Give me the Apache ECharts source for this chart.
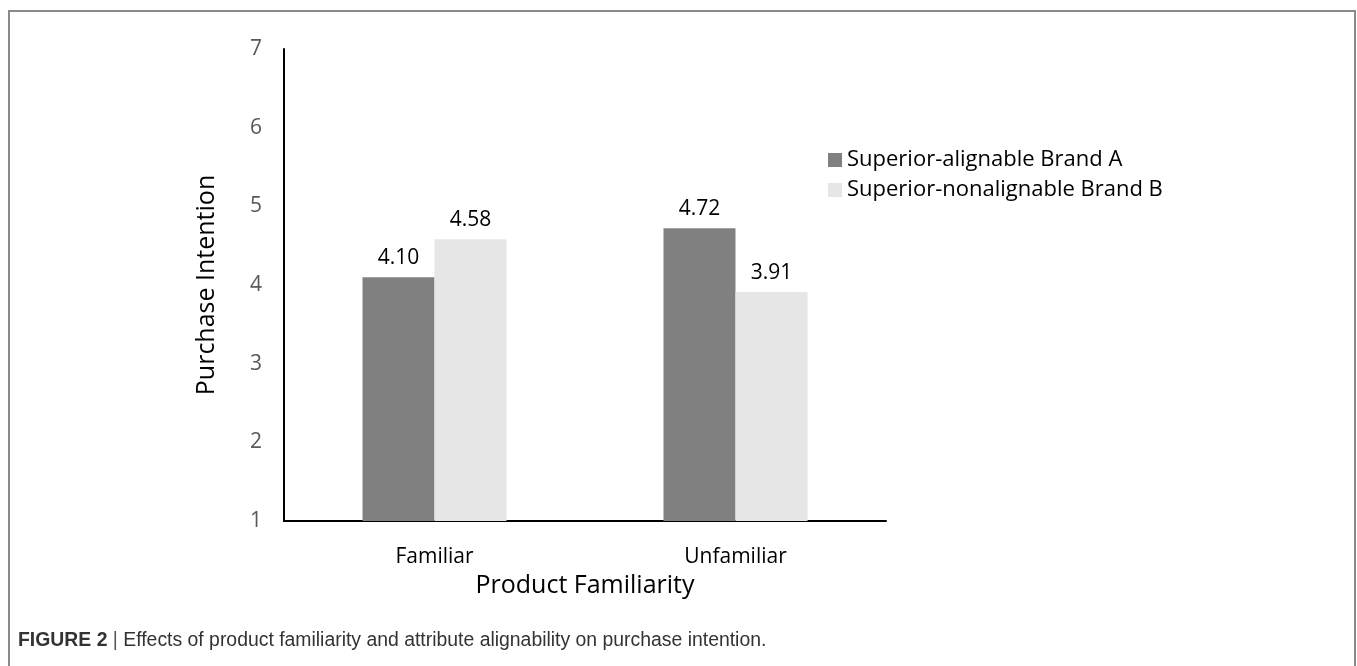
<!DOCTYPE html>
<html>
<head>
<meta charset="utf-8">
<script src="https://cdn.jsdelivr.net/npm/echarts@6/dist/echarts.min.js"></script>
<style>html,body{margin:0;padding:0;background:#fff;}#c{width:1357px;height:666px;}</style>
</head>
<body>
<div id="c"></div>
<script>
const categories = ['Familiar', 'Unfamiliar'];
const seriesNames = ['Superior-alignable Brand A', 'Superior-nonalignable Brand B'];
const brandA = [4.10, 4.72];
const brandB = [4.58, 3.91];
const yTicks = [1, 7, 1]; // min, max, interval

const font = '"Open Sans", "Noto Sans", sans-serif';
const capFont = '"Liberation Sans", Arial, sans-serif';
const chart = echarts.init(document.getElementById('c'));
chart.setOption({
  backgroundColor: '#fff',
  animation: false,
  textStyle: { fontFamily: font },
  grid: { left: 284, right: 471, top: 49, bottom: 145, containLabel: false },
  legend: {
    orient: 'vertical', left: 823, top: 144,
    itemWidth: 14, itemHeight: 14, itemGap: 8,
    icon: 'rect',
    textStyle: { fontSize: 22, color: '#000', fontFamily: font, padding: [0,0,0,0] },
    data: seriesNames
  },
  xAxis: {
    type: 'category', data: categories,
    axisLine: { lineStyle: { color: '#000', width: 2 } },
    axisTick: { show: false },
    axisLabel: { fontSize: 21, color: '#000', margin: 26 },
    name: 'Product Familiarity', nameLocation: 'middle', nameGap: 51,
    nameTextStyle: { fontSize: 25, color: '#000' }
  },
  yAxis: {
    type: 'value', min: yTicks[0], max: yTicks[1], interval: yTicks[2],
    axisLine: { show: true, lineStyle: { color: '#000', width: 2 } },
    axisTick: { show: false },
    splitLine: { show: false },
    axisLabel: { fontSize: 21, color: '#595959', margin: 22 },
    name: 'Purchase Intention', nameLocation: 'middle', nameGap: 65,
    nameTextStyle: { fontSize: 25, color: '#000' }
  },
  series: [
    { name: seriesNames[0], type: 'bar', data: brandA, barWidth: 72, barGap: '0%',
      itemStyle: { color: '#808080' },
      label: { show: true, position: 'top', distance: 9, fontSize: 21, color: '#000', formatter: p => p.value.toFixed(2) } },
    { name: seriesNames[1], type: 'bar', data: brandB, barWidth: 72, barGap: '0%',
      itemStyle: { color: '#e6e6e6' },
      label: { show: true, position: 'top', distance: 9, fontSize: 21, color: '#000', formatter: p => p.value.toFixed(2) } }
  ],
  graphic: [
    { type: 'rect', shape: { x: 9, y: 11, width: 1346, height: 700 }, style: { fill: 'none', stroke: '#8a8a8a', lineWidth: 2 }, silent: true },
    { type: 'text', left: 18, top: 631, style: { text: '{b|FIGURE 2} {p||} Effects of product familiarity and attribute alignability on purchase intention.',
      rich: { b: { fontWeight: 'bold', fontSize: 19.4, fontFamily: capFont, fill: '#333' }, p: { fontSize: 19.4, fill: '#555', fontFamily: capFont } },
      fontSize: 19.4, fontFamily: capFont, fill: '#333' } }
  ]
});
</script>
</body>
</html>
